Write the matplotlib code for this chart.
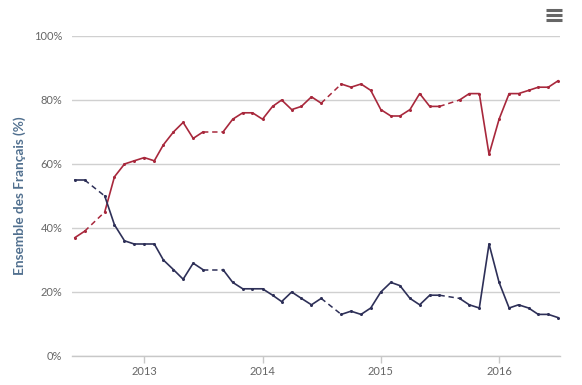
import numpy as np
import pandas as pd
import matplotlib
matplotlib.use("Agg")
import matplotlib.pyplot as plt
import matplotlib.dates as mdates
from matplotlib.lines import Line2D

# ---- data -------------------------------------------------------------
months = pd.date_range("2012-06-01", "2016-07-01", freq="MS")
nan = np.nan
satisfied = [37, 39, nan, 45, 56, 60, 61, 62, 61, 66, 70, 73, 68, 70, nan, 70,
             74, 76, 76, 74, 78, 80, 77, 78, 81, 79, nan, 85, 84, 85, 83, 77,
             75, 75, 77, 82, 78, 78, nan, 80, 82, 82, 63, 74, 82, 82, 83, 84,
             84, 86]
unsatisfied = [55, 55, nan, 50, 41, 36, 35, 35, 35, 30, 27, 24, 29, 27, nan, 27,
               23, 21, 21, 21, 19, 17, 20, 18, 16, 18, nan, 13, 14, 13, 15, 20,
               23, 22, 18, 16, 19, 19, nan, 18, 16, 15, 35, 23, 15, 16, 15, 13,
               13, 12]
y_ticks = [0, 20, 40, 60, 80, 100]
y_ticklabels = ["0%", "20%", "40%", "60%", "80%", "100%"]
x_years = ["2013", "2014", "2015", "2016"]
y_title = "Ensemble des Français (%)"

RED = "#a8283c"
BLUE = "#2e3058"

W, H = 582, 385
fig = plt.figure(figsize=(W / 100, H / 100), dpi=100)
ax = fig.add_axes([72 / W, (H - 356) / H, (560 - 72) / W, (356 - 36) / H])

def draw(series, color):
    s = np.array(series, dtype=float)
    # dashed connectors over gaps
    valid = np.where(~np.isnan(s))[0]
    for a, b in zip(valid[:-1], valid[1:]):
        if b - a > 1:
            ax.plot([months[a], months[b]], [s[a], s[b]], color=color, lw=1.1,
                    ls=(0, (3.5, 2.5)), zorder=3)
    ax.plot(months, s, color=color, lw=1.2, zorder=4, marker="o", ms=2.2,
            markeredgewidth=0, solid_joinstyle="round")

draw(satisfied, RED)
draw(unsatisfied, BLUE)

ax.set_ylim(0, 100)
ax.set_xlim(pd.Timestamp("2012-05-23"), pd.Timestamp("2016-07-07"))
ax.set_yticks(y_ticks)
ax.set_yticklabels(y_ticklabels)
ax.set_xticks([pd.Timestamp(f"{y}-01-01") for y in x_years])
ax.set_xticklabels(x_years)

ax.grid(axis="y", color="#d0d0d0", lw=1.0)
ax.set_axisbelow(True)
for side in ["top", "right", "left"]:
    ax.spines[side].set_visible(False)
ax.spines["bottom"].set_color("#c8c8c8")
ax.spines["bottom"].set_linewidth(1.0)
ax.tick_params(axis="y", length=0, pad=7, labelsize=8, labelcolor="#666666")
ax.tick_params(axis="x", length=5, width=1, color="#c8c8c8", pad=2,
               labelsize=8, labelcolor="#666666")
for lab in ax.get_xticklabels() + ax.get_yticklabels():
    lab.set_family("Lato")

fig.text(20 / W, (H - 196) / H, y_title, rotation=90, ha="center", va="center",
         fontsize=9.8, fontweight="bold", color="#51708f", family="Lato")

# context-menu icon
for yy in (10, 15, 20):
    fig.add_artist(Line2D([546 / W, 562 / W], [(H - yy) / H] * 2, color="#666666",
                          lw=2.2, solid_capstyle="butt"))

fig.savefig("out.png", dpi=100, facecolor="white")
